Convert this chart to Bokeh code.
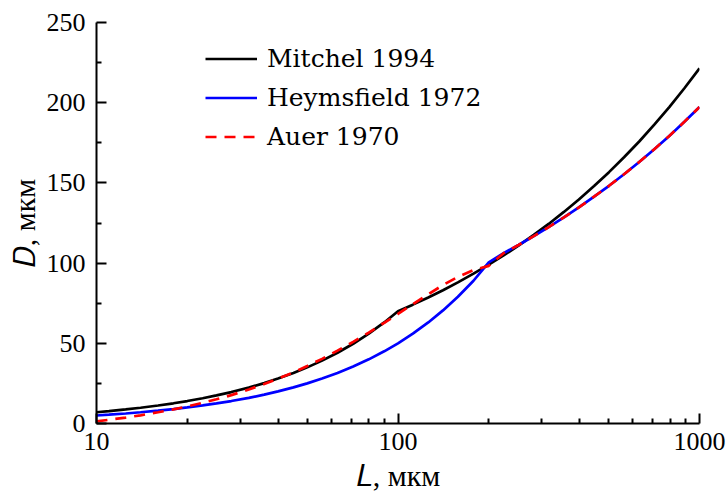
import math
from bokeh.plotting import figure
from bokeh.models import Range1d, FixedTicker, Legend, LegendItem, BasicTickFormatter
from bokeh.embed import file_html
from bokeh.resources import INLINE

# Length of the crystal L (µm) at which the curves were read
L_um = [10, 11, 12.5, 14, 16, 18, 20, 22.5, 25, 28, 32, 36, 40, 45, 50, 56, 63, 71, 80, 90,
        100, 112, 126, 141, 158, 178, 200, 224, 251, 282, 316, 355, 398, 447, 501, 562, 631,
        708, 794, 891, 1000]

# Width D (µm) for each relation
mitchel_1994 = [7.0, 7.7, 8.75, 9.8, 11.2, 12.6, 14.0, 15.75, 17.5, 19.6, 22.4, 25.2, 28.0, 31.5,
                35.0, 39.2, 44.1, 49.7, 56.0, 63.0, 70.0, 74.1, 78.6, 83.1, 88.0, 93.4, 99.0,
                104.8, 110.9, 117.6, 124.4, 131.9, 139.7, 148.0, 156.7, 166.0, 175.8, 186.3,
                197.3, 209.0, 221.4]
heymsfield_1972 = [5.0, 5.5, 6.25, 7.0, 8.0, 9.0, 10.0, 11.25, 12.5, 14.0, 16.0, 18.0, 20.0, 22.5,
                   25.0, 28.0, 31.5, 35.5, 40.0, 45.0, 50.0, 56.0, 63.0, 70.5, 79.0, 89.0, 100.5,
                   106.2, 111.3, 116.8, 122.4, 128.5, 134.7, 141.4, 148.2, 155.4, 163.0, 171.0,
                   179.3, 188.1, 197.3]
auer_1970 = [1.3, 2.3, 3.7, 5.1, 7.0, 8.8, 10.6, 12.9, 15.1, 17.7, 21.2, 24.6, 27.9, 31.9,
             35.8, 40.3, 45.4, 50.9, 56.7, 62.8, 68.3, 74.4, 80.6, 86.3, 91.4, 95.7, 98.3,
             106.2, 111.3, 116.8, 122.4, 128.5, 134.7, 141.4, 148.2, 155.4, 163.0, 171.0,
             179.3, 188.1, 197.3]

series_names = ["Mitchel 1994", "Heymsfield 1972", "Auer 1970"]
x_label = "\U0001D43F, мкм"
y_label = "\U0001D437, мкм"

x_ticks = [10, 100, 1000]
x_tick_labels = ["10", "100", "1000"]
x_minor_ticks = [20, 30, 40, 50, 60, 70, 80, 90, 200, 300, 400, 500, 600, 700, 800, 900]
y_ticks = [0, 50, 100, 150, 200, 250]
y_minor_ticks = [25, 75, 125, 175, 225]

TICK_FONT = "Liberation Serif"
LEG_FONT = "DejaVu Serif"

p = figure(width=728, height=494, x_axis_type="log",
           x_range=Range1d(10, 1000), y_range=Range1d(0, 250),
           output_backend="svg", toolbar_location=None,
           min_border_left=96, min_border_right=29, min_border_top=22, min_border_bottom=70)
p.xgrid.visible = False
p.ygrid.visible = False
p.outline_line_color = None
p.background_fill_color = "white"
p.border_fill_color = "white"

p.xaxis.ticker = FixedTicker(ticks=x_ticks, minor_ticks=x_minor_ticks)
p.xaxis.formatter = BasicTickFormatter()
p.xaxis.major_label_overrides = {t: s for t, s in zip(x_ticks, x_tick_labels)}
p.yaxis.ticker = FixedTicker(ticks=y_ticks, minor_ticks=y_minor_ticks)

for ax in (p.xaxis[0], p.yaxis[0]):
    ax.axis_line_width = 2
    ax.axis_line_color = "black"
    ax.major_tick_line_width = 2
    ax.minor_tick_line_width = 2
    ax.major_tick_line_color = "black"
    ax.minor_tick_line_color = "black"
    ax.major_tick_in = 10
    ax.major_tick_out = 0
    ax.minor_tick_in = 5
    ax.minor_tick_out = 0
    ax.major_label_text_font = TICK_FONT
    ax.major_label_text_font_size = "26px"
    ax.major_label_text_color = "black"
    ax.axis_label_text_font = TICK_FONT
    ax.axis_label_text_font_size = "30px"
    ax.axis_label_text_font_style = "normal"
    ax.axis_label_text_color = "black"
p.xaxis.axis_label = x_label
p.yaxis.axis_label = y_label
p.xaxis.axis_label_standoff = 6
p.yaxis.axis_label_standoff = 3
p.yaxis.major_label_standoff = 11
p.xaxis.major_label_standoff = 9

r_m = p.line(L_um, mitchel_1994, line_color="black", line_width=2.7)
r_h = p.line(L_um, heymsfield_1972, line_color="#0000ff", line_width=2.7)
r_a = p.line(L_um, auer_1970, line_color="#ff0000", line_width=2.7, line_dash="11 8")

legend = Legend(items=[LegendItem(label=series_names[0], renderers=[r_m]),
                       LegendItem(label=series_names[1], renderers=[r_h]),
                       LegendItem(label=series_names[2], renderers=[r_a])],
                location=(109, 267), padding=0, margin=0, spacing=0,
                glyph_width=52, glyph_height=39, label_height=39, label_standoff=10,
                label_text_font=LEG_FONT, label_text_font_size="25px",
                label_text_color="black",
                border_line_color=None, background_fill_alpha=0)
p.add_layout(legend)

open("out.html", "w").write(file_html(p, INLINE))
